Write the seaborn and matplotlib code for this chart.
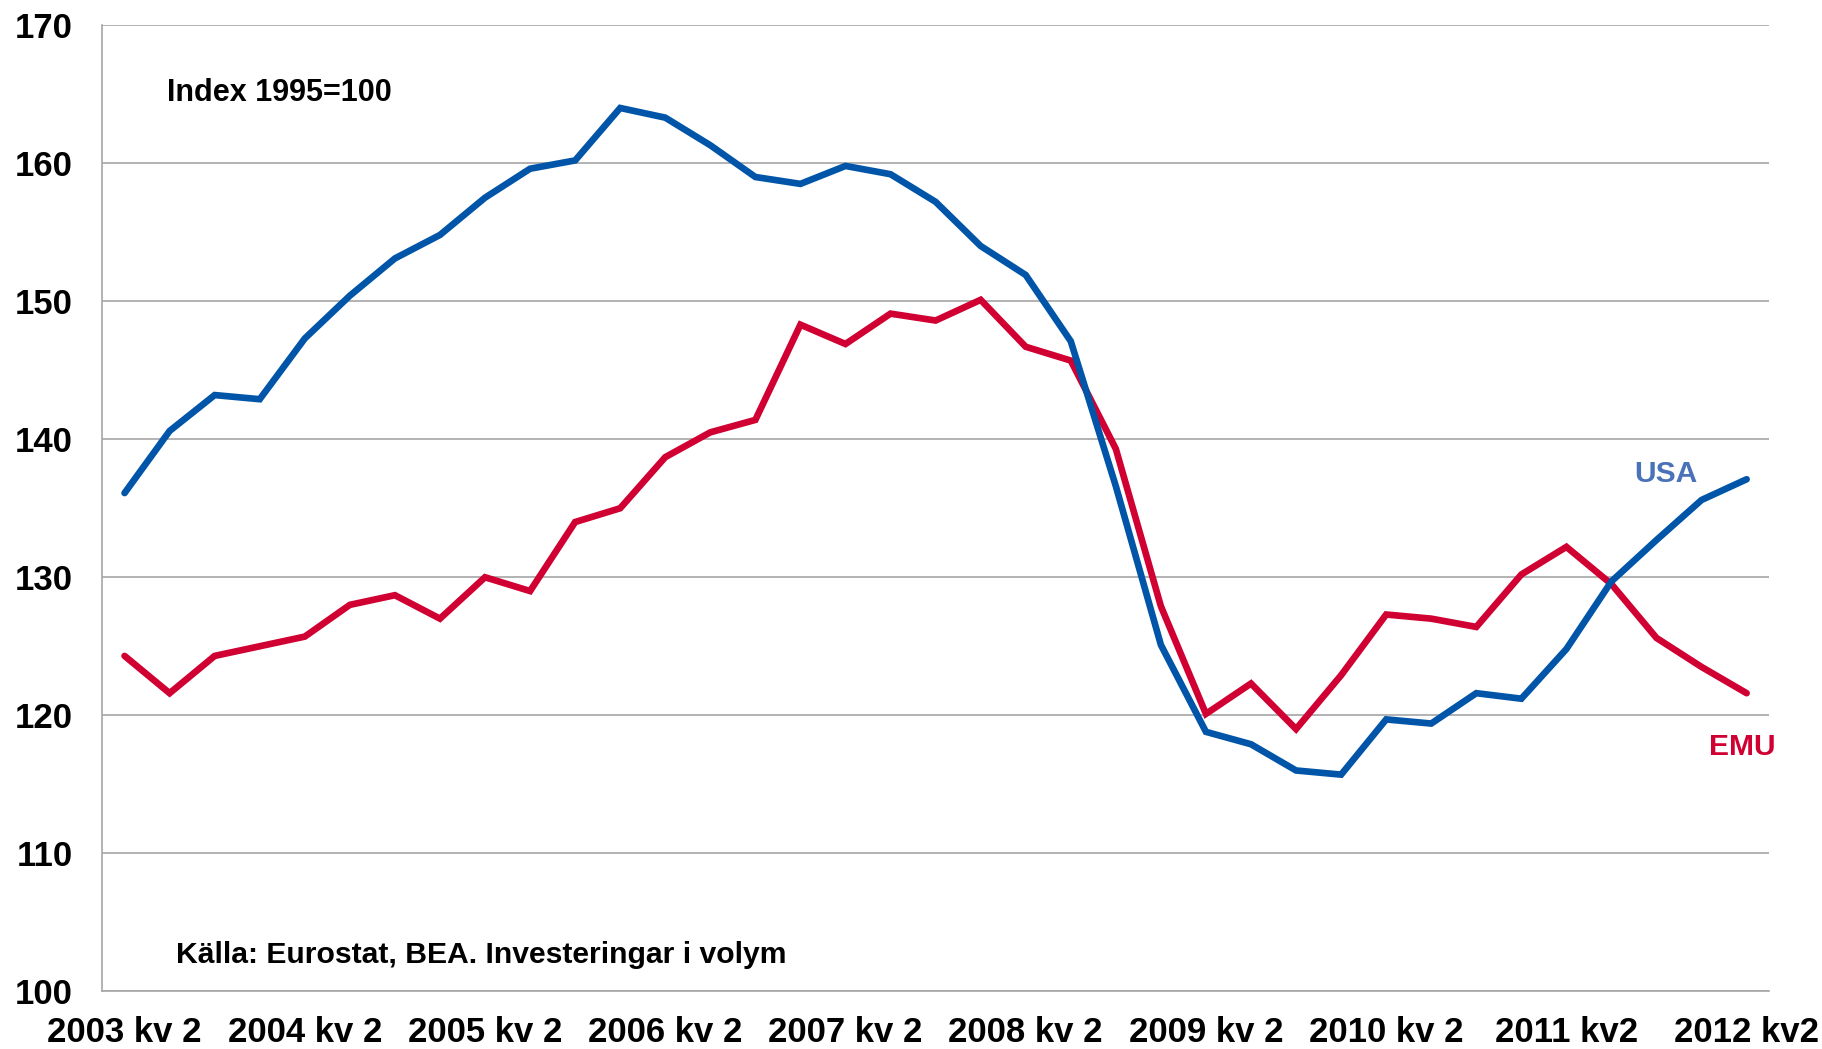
import numpy as np
import pandas as pd
import matplotlib
matplotlib.use("Agg")
import matplotlib.pyplot as plt
import matplotlib.ticker as ticker
import seaborn as sns

# Quarterly investment volume, index 1995=100, 2003 kv2 .. 2012 kv2
quarters = [f"{y} kv {q}" for y in range(2003, 2013) for q in range(1, 5)][1:38]
usa = [136.1, 140.6, 143.2, 142.9, 147.3, 150.4, 153.1, 154.8, 157.5, 159.6,
       160.2, 164.0, 163.3, 161.3, 159.0, 158.5, 159.8, 159.2, 157.2, 154.0,
       151.9, 147.1, 136.6, 125.1, 118.8, 117.9, 116.0, 115.7, 119.7, 119.4,
       121.6, 121.2, 124.8, 129.7, 132.7, 135.6, 137.1]
emu = [124.3, 121.6, 124.3, 125.0, 125.7, 128.0, 128.7, 127.0, 130.0, 129.0,
       134.0, 135.0, 138.7, 140.5, 141.4, 148.3, 146.9, 149.1, 148.6, 150.1,
       146.7, 145.7, 139.3, 127.9, 120.1, 122.3, 119.0, 122.9, 127.3, 127.0,
       126.4, 130.2, 132.2, 129.5, 125.6, 123.5, 121.6]
tick_labels = ["2003 kv 2", "2004 kv 2", "2005 kv 2", "2006 kv 2", "2007 kv 2",
               "2008 kv 2", "2009 kv 2", "2010 kv 2", "2011 kv2", "2012 kv2"]

df = pd.DataFrame({"idx": np.arange(len(quarters)), "kvartal": quarters,
                   "USA": usa, "EMU": emu})
long = df.melt(id_vars=["idx", "kvartal"], value_vars=["USA", "EMU"],
               var_name="serie", value_name="index")

sns.set_style("white")
plt.rcParams['font.family'] = ['Liberation Sans Narrow', 'Liberation Sans', 'DejaVu Sans']
plt.rcParams['font.weight'] = 'bold'
plt.rcParams['text.color'] = 'black'
plt.rcParams['xtick.labelcolor'] = 'black'
plt.rcParams['ytick.labelcolor'] = 'black'

colors = {"USA": "#0055a8", "EMU": "#d00032"}
grid_col = "#a6a6a6"

fig = plt.figure(figsize=(18.22, 10.49), dpi=100)
ax = fig.add_axes([0.056, 0.055, 0.915, 0.921])

sns.lineplot(data=long, x="idx", y="index", hue="serie", palette=colors,
             hue_order=["EMU", "USA"], linewidth=4.8, legend=False, ax=ax)
for ln in ax.lines:
    ln.set_solid_capstyle("round")
    ln.set_solid_joinstyle("miter")

ax.set_xlim(-0.5, len(quarters) - 0.5)
ax.set_ylim(100, 170)
ax.set_yticks(range(100, 171, 10))
ax.yaxis.grid(True, color=grid_col, linewidth=1.2)
ax.set_axisbelow(True)

# tick marks at year boundaries, labels at each kv 2
ax.xaxis.set_major_locator(ticker.FixedLocator(np.arange(-0.5, len(quarters), 4)))
ax.xaxis.set_major_formatter(ticker.NullFormatter())
ax.xaxis.set_minor_locator(ticker.FixedLocator(np.arange(0, len(quarters), 4)))
ax.xaxis.set_minor_formatter(ticker.FixedFormatter(tick_labels))
ax.tick_params(axis="x", which="major", length=9, width=1.2, color=grid_col, direction="out")
ax.tick_params(axis="x", which="minor", length=0, pad=18, labelsize=25, labelcolor="black")
ax.tick_params(axis="y", length=9, width=1.2, color=grid_col, labelsize=25, pad=12,
               labelcolor="black")
ax.set_xlabel("")
ax.set_ylabel("")

for side in ["top", "right"]:
    ax.spines[side].set_visible(False)
for side in ["left", "bottom"]:
    ax.spines[side].set_color(grid_col)
    ax.spines[side].set_linewidth(1.2)

ax.text(0.95, 165.1, "Index 1995=100", fontsize=22, fontweight="bold", va="center",
        color="black")
ax.text(1.15, 102.6, "Källa: Eurostat, BEA. Investeringar i volym", fontsize=21.7,
        fontweight="bold", va="center", color="black")
ax.text(34.2, 137.5, "USA", fontsize=21.6, fontweight="bold", color="#4a72b8",
        ha="center", va="center")
ax.text(35.9, 117.7, "EMU", fontsize=21.6, fontweight="bold", color=colors["EMU"],
        ha="center", va="center")

fig.savefig("out.png", dpi=100)
